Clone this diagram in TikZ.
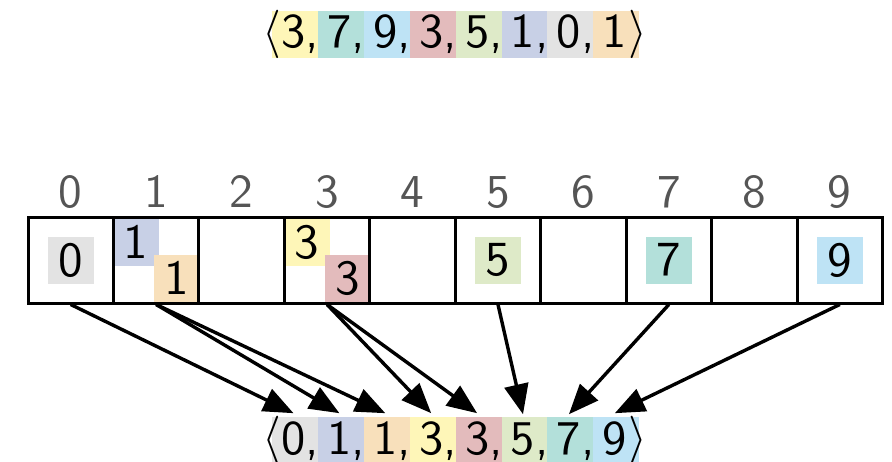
\RequirePackage{fix-cm}
\documentclass[tikz,border=0pt]{standalone}
\usetikzlibrary{arrows.meta,backgrounds}
\definecolor{cy}{HTML}{FEF6B8}
\definecolor{ct}{HTML}{B3E0DA}
\definecolor{cb}{HTML}{BEE3F5}
\definecolor{cr}{HTML}{E3BBBC}
\definecolor{cg}{HTML}{DEEAC8}
\definecolor{cp}{HTML}{C8D0E6}
\definecolor{cgr}{HTML}{E3E3E3}
\definecolor{co}{HTML}{F8E0BB}
\definecolor{idxgray}{HTML}{555555}
\newcommand\celltxt[1]{\scalebox{2.45}{#1}}
\newcommand\seqtxt[1]{\scalebox{2.42}{#1}}
\newcommand\idxtxt[1]{\scalebox{2.36}{#1}}
\newcommand\cmm{,}
\begin{document}
\begin{tikzpicture}[x=0.5pt,y=-0.5pt,
  val/.style={font=\sffamily, inner sep=0pt, outer sep=0pt},
  idx/.style={font=\sffamily, text=idxgray, inner sep=0pt},
  cell/.style={draw, line width=1.5pt, minimum width=42.725pt, minimum height=43pt, inner sep=0pt},
  item/.style={val, minimum width=23pt, minimum height=23.5pt},
  sbox/.style={minimum width=22.95pt, minimum height=23.5pt, inner sep=0pt, outer sep=0pt},
  arr/.style={line width=1.7pt, -{Triangle[length=15pt,width=12pt]}}]
\useasboundingbox (0,0) rectangle (892,461);

% cells and indices
\foreach \i in {0,...,9} {
  \node[cell] (c\i) at ({28+85.45*(\i+0.5)},260) {};
  \node[idx, anchor=base] (n\i) at ({28+85.45*(\i+0.5)},207) {\idxtxt{\i}};
}

% items in cells
\begin{scope}[on background layer]
  \node[item, fill=cgr] (v0) at (c0.center) {\celltxt{0}};
  \node[item, fill=cp] (v1a) at ([shift={(-20.5,-18)}]c1.center) {\celltxt{1}};
  \node[item, fill=co] (v1b) at ([shift={(20.5,18)}]c1.center) {\celltxt{1}};
  \node[item, fill=cy] (v3a) at ([shift={(-20.5,-18)}]c3.center) {\celltxt{3}};
  \node[item, fill=cr] (v3b) at ([shift={(20.5,18)}]c3.center) {\celltxt{3}};
  \node[item, fill=cg] (v5) at (c5.center) {\celltxt{5}};
  \node[item, fill=ct] (v7) at (c7.center) {\celltxt{7}};
  \node[item, fill=cb] (v9) at (c9.center) {\celltxt{9}};
\end{scope}

% top sequence
\foreach \v/\c/\p [count=\k from 0] in {3/cy/\cmm, 7/ct/\cmm, 9/cb/\cmm, 3/cr/\cmm, 5/cg/\cmm, 1/cp/\cmm, 0/cgr/\cmm, 1/co/\relax} {
  \begin{scope}[on background layer]
    \node[sbox, fill=\c] (tb\k) at ({272+45.9*\k+22.95},34.5) {};
  \end{scope}
  \node[val, anchor=base] (td\k) at ({272+45.9*\k+21.5},47) {\seqtxt{\v\rlap{\p}}};
}
\node[val] (tl) at (272,34.5) {\seqtxt{$\langle$}};
\node[val] (tr) at (638,34.5) {\seqtxt{$\rangle$}};

% bottom sequence
\foreach \v/\c/\p [count=\k from 0] in {0/cgr/\cmm, 1/cp/\cmm, 1/co/\cmm, 3/cy/\cmm, 3/cr/\cmm, 5/cg/\cmm, 7/ct/\cmm, 9/cb/\relax} {
  \begin{scope}[on background layer]
    \node[sbox, fill=\c] (bb\k) at ({272+45.9*\k+22.95},440.5) {};
  \end{scope}
  \node[val, anchor=base] (bd\k) at ({272+45.9*\k+21.5},454) {\seqtxt{\v\rlap{\p}}};
}
\node[val] (bl) at (272,440.5) {\seqtxt{$\langle$}};
\node[val] (br) at (638,440.5) {\seqtxt{$\rangle$}};

% arrows
\draw[arr] (c0.south) -- ([yshift=4pt]bd0.north);
\draw[arr] (c1.south) -- ([yshift=4pt]bd1.north);
\draw[arr] (c1.south) -- ([yshift=4pt]bd2.north);
\draw[arr] (c3.south) -- ([yshift=4pt]bd3.north);
\draw[arr] (c3.south) -- ([yshift=4pt]bd4.north);
\draw[arr] (c5.south) -- ([yshift=4pt]bd5.north);
\draw[arr] (c7.south) -- ([yshift=4pt]bd6.north);
\draw[arr] (c9.south) -- ([yshift=4pt]bd7.north);
\end{tikzpicture}
\end{document}
